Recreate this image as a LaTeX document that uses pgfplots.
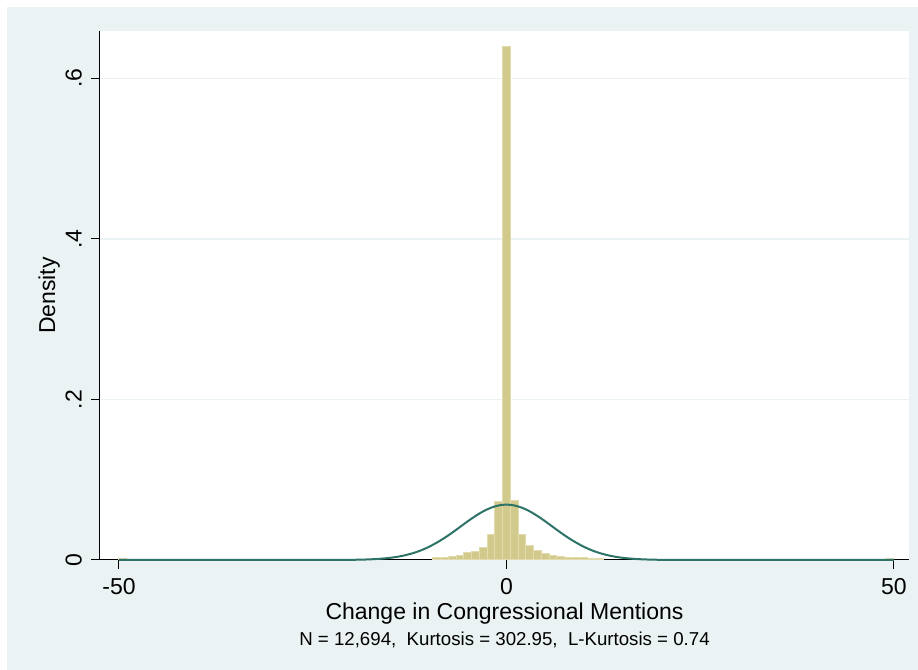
\documentclass[border=0pt]{standalone}
\usepackage{fontspec}
\setmainfont{Liberation Sans}
\usepackage{pgfplots}
\usepackage{pgfplotstable}
\pgfplotsset{compat=1.18}

\definecolor{stbg}{RGB}{234,242,243}
\definecolor{sand}{RGB}{210,201,140}
\definecolor{sandedge}{RGB}{226,220,172}
\definecolor{normline}{RGB}{45,115,103}

% histogram of the change in mentions (bin width 1, density scale)
\pgfplotstableread{
x     h
-49.5 0.0020
-9    0.0033
-8    0.0036
-7    0.0047
-6    0.0060
-5    0.0093
-4    0.0110
-3    0.0160
-2    0.0320
-1    0.0726
0     0.6400
1     0.0735
2     0.0320
3     0.0180
4     0.0120
5     0.0080
6     0.0060
7     0.0045
8     0.0036
9     0.0030
10    0.0025
11    0.0020
12    0.0015
49.5  0.0020
}\histtab

% normal density overlay
\pgfplotstableread{
x    d
-50  0
-40  0
-30  0
-26  0.00001
-24  0.00002
-22  0.00007
-20  0.00022
-19  0.00039
-18  0.00066
-17  0.00109
-16  0.00175
-15  0.0027
-14  0.0041
-13  0.0061
-12  0.0087
-11  0.0121
-10  0.0164
-9   0.0216
-8   0.0275
-7   0.0341
-6   0.0411
-5   0.0482
-4   0.0548
-3   0.0606
-2   0.0651
-1   0.0680
0    0.0690
1    0.0680
2    0.0651
3    0.0606
4    0.0548
5    0.0482
6    0.0411
7    0.0341
8    0.0275
9    0.0216
10   0.0164
11   0.0121
12   0.0087
13   0.0061
14   0.0041
15   0.0027
16   0.00175
17   0.00109
18   0.00066
19   0.00039
20   0.00022
22   0.00007
24   0.00002
26   0.00001
30   0
40   0
50   0
}\normtab

\begin{document}
\begin{tikzpicture}[x=0.75pt,y=0.75pt]
\fill[white] (0,0) rectangle (918,670);
\fill[stbg] (7,0) rectangle (918,663);
\begin{axis}[
  at={(75pt,82.5pt)}, anchor=south west,
  scale only axis, width=606.75pt, height=396.75pt,
  axis background/.style={fill=white},
  xmin=-52.45, xmax=51.94, ymin=0, ymax=0.659,
  axis x line*=bottom, axis y line*=left,
  axis line style={black, line width=0.75pt, -},
  tick align=outside, major tick length=6.75pt,
  tick style={black, line width=0.75pt},
  xtick={-50,0,50}, xticklabels={-50,0,50},
  ytick={0,0.2,0.4,0.6}, yticklabels={0,.2,.4,.6},
  ymajorgrids, grid style={stbg, line width=1.2pt},
  tick label style={font=\fontsize{17.25}{20}\selectfont},
  xticklabel style={anchor=base, yshift=-19.5pt},
  yticklabel style={xshift=-7.1pt, rotate=90, anchor=base},
  label style={font=\fontsize{17.25}{20}\selectfont},
  xlabel={Change in Congressional Mentions},
  ylabel={Density},
  xlabel style={at={(axis description cs:0.5,-0.1134)}, anchor=base},
  ylabel style={at={(axis description cs:-0.0556,0.5)}, anchor=base},
  clip=false,
]
\addplot[ybar, bar width=1, bar shift=0pt, fill=sand, draw=sandedge, line width=0.75pt]
  table[x=x, y=h] {\histtab};
\addplot[normline, line width=1.5pt, smooth, tension=0.5] table[x=x, y=d] {\normtab};
\node[anchor=base, font=\fontsize{14}{16}\selectfont]
  at (axis description cs:0.5,-0.1625)
  {N = 12,694,\ \ Kurtosis = 302.95,\ \ L-Kurtosis = 0.74};
\end{axis}
\end{tikzpicture}
\end{document}
